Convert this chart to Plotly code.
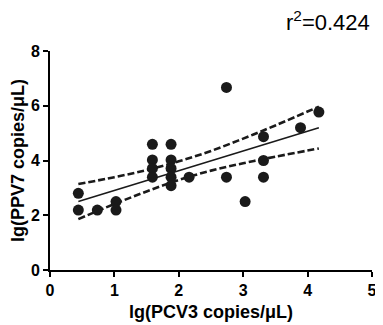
import plotly.graph_objects as go

pcv3 = [0.44, 0.44, 0.735, 1.025, 1.025,
        1.59, 1.59, 1.59, 1.59,
        1.88, 1.88, 1.88, 1.88, 1.88,
        2.16, 2.74, 2.74, 3.03,
        3.315, 3.315, 3.315, 3.89, 4.175]
ppv7 = [2.80, 2.19, 2.19, 2.50, 2.19,
        4.59, 4.02, 3.71, 3.39,
        4.59, 4.02, 3.71, 3.39, 3.08,
        3.39, 6.67, 3.39, 2.50,
        4.87, 4.00, 3.39, 5.20, 5.77]

fit_x = [0.44, 4.175]
fit_y = [2.50, 5.20]

band_x = [0.44, 1.0, 1.5, 2.0, 2.5, 3.0, 3.5, 4.175]
band_upper = [3.14, 3.39, 3.65, 3.97, 4.35, 4.80, 5.28, 5.97]
band_lower = [1.86, 2.41, 2.87, 3.29, 3.63, 3.90, 4.14, 4.44]

x_ticks = [0, 1, 2, 3, 4, 5]
y_ticks = [0, 2, 4, 6, 8]
r2_text = "r<sup>2</sup>=0.424"

ink = "#1a1a1a"
fig = go.Figure()
fig.add_trace(go.Scatter(x=band_x, y=band_upper, mode="lines",
                         line=dict(color=ink, width=2.6, dash="7px,3px", shape="spline"),
                         hoverinfo="skip"))
fig.add_trace(go.Scatter(x=band_x, y=band_lower, mode="lines",
                         line=dict(color=ink, width=2.6, dash="7px,3px", shape="spline"),
                         hoverinfo="skip"))
fig.add_trace(go.Scatter(x=fit_x, y=fit_y, mode="lines",
                         line=dict(color=ink, width=1.6)))
fig.add_trace(go.Scatter(x=pcv3, y=ppv7, mode="markers",
                         marker=dict(color=ink, size=11)))

font_bold = "Liberation Sans"
# page body has an 8px default margin, so the figure is sized to fit inside it
fig.update_layout(
    width=375, height=317,
    margin=dict(l=35, r=6, t=43, b=52),
    paper_bgcolor="white", plot_bgcolor="white",
    showlegend=False,
    font=dict(family=font_bold, color="black"),
    xaxis=dict(range=[0, 5], tickvals=x_ticks, ticks="outside", ticklen=5, tickwidth=2,
               tickcolor="black", showline=True, linecolor="black", linewidth=2,
               showgrid=False, zeroline=False,
               tickfont=dict(size=16, family=font_bold, weight="bold"),
               title=dict(text="lg(PCV3 copies/μL)", standoff=7,
                          font=dict(size=18, family=font_bold, weight="bold"))),
    yaxis=dict(range=[0, 8], tickvals=y_ticks, ticks="outside", ticklen=5, tickwidth=2,
               tickcolor="black", showline=True, linecolor="black", linewidth=2,
               showgrid=False, zeroline=False,
               tickfont=dict(size=16, family=font_bold, weight="bold"),
               title=dict(text="lg(PPV7 copies/μL)", standoff=4,
                          font=dict(size=18, family=font_bold, weight="bold"))),
    annotations=[dict(text=r2_text, xref="paper", yref="paper", x=1.0, y=1.0,
                      xanchor="right", yanchor="bottom", yshift=14, showarrow=False,
                      font=dict(size=22, family=font_bold, color="black"))],
)
fig.write_html("out.html")
